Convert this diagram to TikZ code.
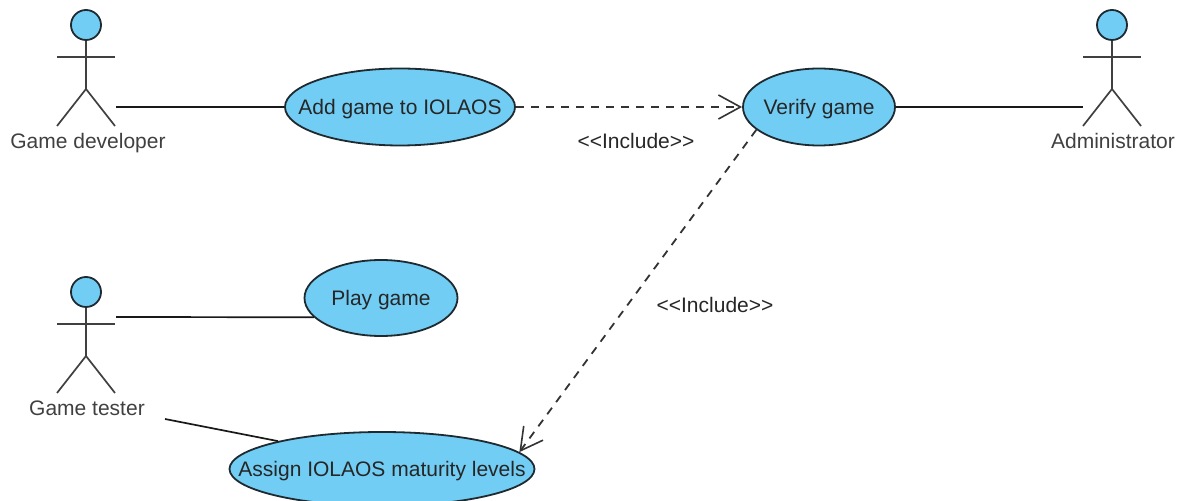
\documentclass[tikz,border=0pt]{standalone}
\usepackage{fontspec}
\setmainfont{Liberation Sans}
\usetikzlibrary{shapes.geometric,arrows.meta}
\definecolor{ucfill}{HTML}{72CDF4}
\definecolor{ucline}{HTML}{1E2A30}
\newcommand{\uctext}[1]{\makebox[0pt]{\smash{\raisebox{-4pt}{#1}}}}
\tikzset{
	usecase/.style={ellipse,draw=ucline,fill=ucfill,line width=0.9pt,inner sep=0pt,text=black!85,font=\fontsize{10.5}{12}\selectfont},
	actorline/.style={draw=black!75,line width=0.85pt},
	actorlabel/.style={text=black!75,inner sep=0pt,font=\fontsize{10.5}{12}\selectfont},
	assoc/.style={draw=black!90,line width=0.85pt},
	incl/.style={draw=black!80,line width=0.9pt,dash pattern=on 4pt off 3.5pt,-{Straight Barb[length=11pt,width=12pt,line width=0.8pt]}},
}
\begin{document}
\begin{tikzpicture}[x=0.5pt,y=-0.5pt]
	\useasboundingbox (0,0) rectangle (1183,501);

	% actors
	\foreach \n/\x/\y in {dev/86/25, tester/86/292, admin/1112/25}{
		\node[circle,draw=ucline,fill=ucfill,line width=0.9pt,minimum size=15pt,inner sep=0pt] (\n head) at (\x,\y) {};
		\coordinate (\n hip) at (\x,{\y+64});
		\coordinate (\n left) at ({\x-29},{\y+32});
		\coordinate (\n right) at ({\x+29},{\y+32});
		\coordinate (\n footl) at ({\x-29},{\y+101});
		\coordinate (\n footr) at ({\x+29},{\y+101});
		\draw[actorline] (\n head) -- (\n hip);
		\draw[actorline] (\n left) -- (\n right);
		\draw[actorline] (\n footl) -- (\n hip) -- (\n footr);
	}
	\node[actorlabel] (devlabel) at (88,143) {Game developer};
	\node[actorlabel] (testerlabel) at (87,408) {Game tester};
	\node[actorlabel] (adminlabel) at (1113,141) {Administrator};

	% use cases
	\node[usecase,minimum width=115pt,minimum height=38.5pt] (addgame) at (400,107) {\uctext{Add game to IOLAOS}};
	\node[usecase,minimum width=76pt,minimum height=38.5pt] (verify) at (819,107) {\uctext{Verify game}};
	\node[usecase,minimum width=76.5pt,minimum height=38pt] (play) at (381,298) {\uctext{Play game}};
	\node[usecase,minimum width=152.5pt,minimum height=37pt] (assign) at (382,469) {\uctext{Assign IOLAOS maturity levels}};

	% free ends of the associations
	\coordinate (devend) at (116,107);
	\coordinate (adminend) at (1083,107);
	\coordinate (testerend) at (116,317);
	\coordinate (testerlow) at (165,419);

	\draw[assoc] (devend) -- (addgame.west);
	\draw[assoc] (verify.east) -- (adminend);
	\draw[assoc] (testerend) -- (play.196);
	\draw[assoc] (testerlow) -- (assign.165);

	\draw[incl] (addgame.east) -- (verify.west);
	\draw[incl] (verify.200) -- (assign.7);

	\node[actorlabel,text=black!85] (incla) at (636,141) {<{}<Include>{}>};
	\node[actorlabel,text=black!85] (inclb) at (715,305) {<{}<Include>{}>};
\end{tikzpicture}
\end{document}
